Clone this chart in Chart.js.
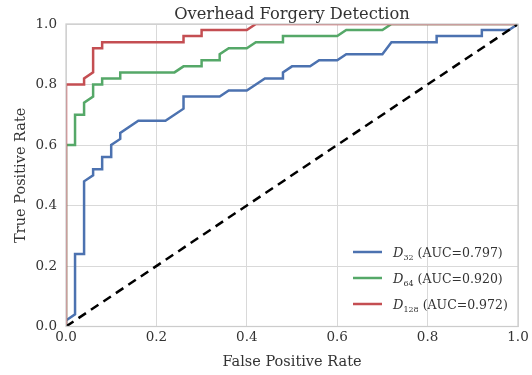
<!DOCTYPE html>
<html lang="en">
<head>
  <meta charset="UTF-8" />
  <title>Overhead Forgery Detection</title>
  <script src="https://cdn.jsdelivr.net/npm/chart.js"></script>
  <style>
    html, body { margin: 0; padding: 0; background: #fff; }
  </style>
</head>
<body>
  <canvas id="rocChart" width="532" height="375"></canvas>

  <script>
    // ROC points (false positive rate / true positive rate)
    const fpr32 = [0, 0, 0.02, 0.02, 0.04, 0.04, 0.06, 0.06, 0.08, 0.08, 0.10, 0.10, 0.12, 0.12, 0.16, 0.22, 0.26, 0.26, 0.34, 0.36, 0.40, 0.44, 0.48, 0.48, 0.50, 0.54, 0.56, 0.60, 0.62, 0.70, 0.72, 0.82, 0.82, 0.92, 0.92, 0.98, 1.0];
    const tpr32 = [0, 0.02, 0.04, 0.24, 0.24, 0.48, 0.50, 0.52, 0.52, 0.56, 0.56, 0.60, 0.62, 0.64, 0.68, 0.68, 0.72, 0.76, 0.76, 0.78, 0.78, 0.82, 0.82, 0.84, 0.86, 0.86, 0.88, 0.88, 0.90, 0.90, 0.94, 0.94, 0.96, 0.96, 0.98, 0.98, 1.0];

    const fpr64 = [0, 0, 0.02, 0.02, 0.04, 0.04, 0.06, 0.06, 0.08, 0.08, 0.12, 0.12, 0.24, 0.26, 0.30, 0.30, 0.34, 0.34, 0.36, 0.40, 0.42, 0.48, 0.48, 0.60, 0.62, 0.70, 0.72, 1.0];
    const tpr64 = [0, 0.60, 0.60, 0.70, 0.70, 0.74, 0.76, 0.80, 0.80, 0.82, 0.82, 0.84, 0.84, 0.86, 0.86, 0.88, 0.88, 0.90, 0.92, 0.92, 0.94, 0.94, 0.96, 0.96, 0.98, 0.98, 1.0, 1.0];

    const fpr128 = [0, 0, 0.04, 0.04, 0.06, 0.06, 0.08, 0.08, 0.26, 0.26, 0.30, 0.30, 0.40, 0.42, 1.0];
    const tpr128 = [0, 0.80, 0.80, 0.82, 0.84, 0.92, 0.92, 0.94, 0.94, 0.96, 0.96, 0.98, 0.98, 1.0, 1.0];

    const chanceX = [0, 1];
    const chanceY = [0, 1];

    const chartTitle = 'Overhead Forgery Detection';
    const seriesNames = ['32', '64', '128'];
    const aucValues = ['0.797', '0.920', '0.972'];
    const seriesColors = ['#4c72b0', '#55a868', '#c44e52'];
    const tickValues = [0, 0.2, 0.4, 0.6, 0.8, 1.0];

    const SERIF = "'DejaVu Serif', 'Liberation Serif', serif";
    const TEXT = '#333333';

    function toPoints(xs, ys) {
      return xs.map((x, i) => ({ x: x, y: ys[i] }));
    }

    // title centred over the plot area (matplotlib style), not the canvas
    const titlePlugin = {
      id: 'axesTitle',
      afterDraw(chart) {
        const { ctx, chartArea: a } = chart;
        ctx.save();
        ctx.fillStyle = TEXT;
        ctx.font = '16.3px ' + SERIF;
        ctx.textAlign = 'center';
        ctx.textBaseline = 'alphabetic';
        ctx.fillText(chartTitle, (a.left + a.right) / 2, a.top - 5.5);
        ctx.restore();
      }
    };

    // spines on top of the lines, like matplotlib
    const framePlugin = {
      id: 'frame',
      afterDatasetsDraw(chart) {
        const { ctx, chartArea: a } = chart;
        ctx.save();
        ctx.strokeStyle = '#cccccc';
        ctx.lineWidth = 1.25;
        ctx.strokeRect(a.left, a.top, a.right - a.left, a.bottom - a.top);
        ctx.restore();
      }
    };

    // legend with subscripted D, drawn inside the plot (lower right)
    const legendPlugin = {
      id: 'rocLegend',
      afterDraw(chart) {
        const { ctx } = chart;
        const lineX0 = 353, lineX1 = 382, textX = 393;
        const rows = [252, 278, 304];
        ctx.save();
        seriesNames.forEach((name, i) => {
          const y = rows[i];
          ctx.strokeStyle = seriesColors[i];
          ctx.lineWidth = 2.5;
          ctx.beginPath();
          ctx.moveTo(lineX0, y);
          ctx.lineTo(lineX1, y);
          ctx.stroke();

          ctx.fillStyle = TEXT;
          ctx.textBaseline = 'alphabetic';
          ctx.textAlign = 'left';
          let x = textX;
          ctx.font = 'italic 13px ' + SERIF;
          ctx.fillText('D', x, y + 5);
          x += ctx.measureText('D').width;
          ctx.font = '8px ' + SERIF;
          ctx.fillText(name, x, y + 8);
          x += ctx.measureText(name).width + 4;
          ctx.font = '12.5px ' + SERIF;
          ctx.fillText('(AUC=' + aucValues[i] + ')', x, y + 5);
        });
        ctx.restore();
      }
    };

    const lineStyle = (color) => ({
      borderColor: color,
      backgroundColor: color,
      borderWidth: 2.5,
      pointRadius: 0,
      showLine: true,
      fill: false,
      tension: 0,
      clip: 0
    });

    new Chart(document.getElementById('rocChart'), {
      type: 'scatter',
      data: {
        datasets: [
          Object.assign({ label: 'chance', data: toPoints(chanceX, chanceY), order: 0 }, lineStyle('#000000'), { borderDash: [9, 6] }),
          Object.assign({ label: 'D128', data: toPoints(fpr128, tpr128), order: 1 }, lineStyle(seriesColors[2])),
          Object.assign({ label: 'D64', data: toPoints(fpr64, tpr64), order: 2 }, lineStyle(seriesColors[1])),
          Object.assign({ label: 'D32', data: toPoints(fpr32, tpr32), order: 3 }, lineStyle(seriesColors[0]))
        ]
      },
      options: {
        responsive: false,
        animation: false,
        devicePixelRatio: 1,
        layout: { padding: { left: 0, right: 14, top: 24, bottom: 0 } },
        plugins: {
          legend: { display: false },
          tooltip: { enabled: false },
          title: { display: false }
        },
        scales: {
          x: {
            type: 'linear',
            min: 0,
            max: 1,
            afterBuildTicks(scale) { scale.ticks = tickValues.map(v => ({ value: v })); },
            afterFit(scale) { scale.height = 48.5; },
            ticks: {
              color: TEXT,
              font: { family: SERIF, size: 13.5 },
              padding: 3,
              maxRotation: 0,
              callback: v => Number(v).toFixed(1)
            },
            grid: { color: '#d9d9d9', lineWidth: 1, drawTicks: false },
            border: { display: false },
            title: {
              display: true,
              text: 'False Positive Rate',
              color: TEXT,
              font: { family: SERIF, size: 14.5 },
              padding: { top: 0, bottom: 4.3 }
            }
          },
          y: {
            type: 'linear',
            min: 0,
            max: 1,
            afterBuildTicks(scale) { scale.ticks = tickValues.map(v => ({ value: v })); },
            afterFit(scale) { scale.width = 66; },
            ticks: {
              color: TEXT,
              font: { family: SERIF, size: 13.5 },
              padding: 9,
              callback: v => Number(v).toFixed(1)
            },
            grid: { color: '#d9d9d9', lineWidth: 1, drawTicks: false },
            border: { display: false },
            title: {
              display: true,
              text: 'True Positive Rate',
              color: TEXT,
              font: { family: SERIF, size: 14.5 },
              padding: { top: 12.3, bottom: 0 }
            }
          }
        }
      },
      plugins: [framePlugin, legendPlugin, titlePlugin]
    });
  </script>
</body>
</html>
